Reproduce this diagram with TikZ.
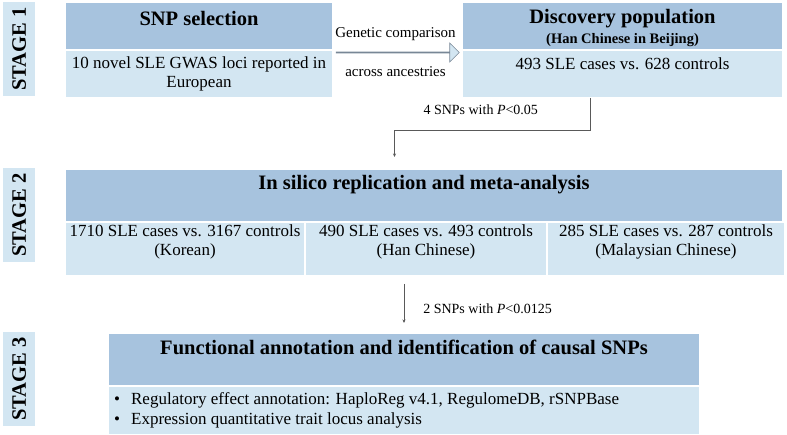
\documentclass[tikz,border=0pt]{standalone}
\usepackage{fontspec}
\setmainfont{Liberation Serif}
\usetikzlibrary{positioning, calc, arrows.meta, shapes.arrows}
\definecolor{hdrBlue}{RGB}{167,195,222}
\definecolor{cellBlue}{RGB}{211,230,242}
\definecolor{lineGray}{RGB}{89,89,89}
\definecolor{arrowGray}{RGB}{120,135,150}

\begin{document}
\begin{tikzpicture}[
  x=1pt, y=1pt,
  cell/.style={rectangle, draw=white, line width=1pt, fill=#1,
    anchor=north west, inner sep=0pt},
  cell/.default=cellBlue,
  stagebox/.style={rectangle, fill=cellBlue, anchor=north west,
    minimum width=32pt, minimum height=94pt, inner sep=0pt,
    font=\fontsize{20.5}{22}\selectfont\bfseries},
  ttl/.style={font=\fontsize{20.5}{22}\selectfont\bfseries, inner sep=0pt},
  subttl/.style={font=\fontsize{14.5}{16}\selectfont\bfseries, inner sep=0pt},
  txt/.style={font=\fontsize{17}{19}\selectfont, align=center, inner sep=0pt},
  lbl/.style={font=\fontsize{15}{17}\selectfont, inner sep=1pt},
  conn/.style={draw=lineGray, line width=0.6pt,
    -{Stealth[length=3.5pt,width=3pt]}}
]
  \useasboundingbox (0,0) rectangle (787,-435);

  % stage labels
  \node[stagebox] (st1) at (3,-2)   {\rotatebox{90}{STAGE 1}};
  \node[stagebox] (st2) at (3,-168) {\rotatebox{90}{STAGE 2}};
  \node[stagebox] (st3) at (3,-332) {\rotatebox{90}{STAGE 3}};

  % stage 1
  \node[cell=hdrBlue, minimum width=267pt, minimum height=47pt] (sel) at (65,-2) {};
  \node[cell, minimum width=267pt, minimum height=47pt] (selB) at (sel.south west) {};
  \node[ttl] at ($(sel.north)+(0,-16)$) {SNP selection};
  \node[txt] at (selB) {10 novel SLE GWAS loci reported in\\European};

  \node[cell=hdrBlue, minimum width=320pt, minimum height=47pt] (disc) at (462,-2) {};
  \node[cell, minimum width=320pt, minimum height=47pt] (discB) at (disc.south west) {};
  \node[ttl] at ($(disc.north)+(0,-17)$) {Discovery population};
  \node[subttl] at ($(disc.north)+(0,-38)$) {(Han Chinese in Beijing)};
  \node[txt] at ($(discB.north)+(0,-14)$) {493 SLE cases vs. 628 controls};

  \node[single arrow, draw=arrowGray, fill=cellBlue, line width=0.6pt,
    minimum height=123pt, minimum width=19pt, inner sep=0pt,
    single arrow head extend=5.5pt, single arrow head indent=0pt]
    (cmp) at ($(sel.south east)!0.5!(disc.south west)+(0,-2.5)$) {};
  \node[lbl] at ($(cmp)+(-2,18.5)$) {Genetic comparison};
  \node[lbl] at ($(cmp)+(-2,-19.5)$) {across ancestries};

  % stage 2
  \node[cell=hdrBlue, minimum width=717pt, minimum height=52pt] (rep) at (65,-169) {};
  \node[cell, minimum width=239pt, minimum height=53pt] (repA) at (rep.south west) {};
  \node[cell, minimum width=241pt, minimum height=53pt] (repB) at (repA.north east) {};
  \node[cell, minimum width=237pt, minimum height=53pt] (repC) at (repB.north east) {};
  \node[ttl] at ($(rep.north)+(0,-16)$) {In silico replication and meta-analysis};
  \node[txt] at ($(repA)+(0,7)$) {1710 SLE cases vs. 3167 controls\\(Korean)};
  \node[txt] at ($(repB)+(0,7)$) {490 SLE cases vs. 493 controls\\(Han Chinese)};
  \node[txt] at ($(repC)+(0,7)$) {285 SLE cases vs. 287 controls\\(Malaysian Chinese)};

  % stage 3
  \node[cell=hdrBlue, minimum width=591pt, minimum height=52pt] (func) at (108,-333) {};
  \node[cell, minimum width=591pt, minimum height=48pt] (funcB) at (func.south west) {};
  \node[ttl] at ($(func.north)+(0,-14)$) {Functional annotation and identification of causal SNPs};
  \node[txt, align=left, anchor=west, font=\fontsize{17}{20}\selectfont]
    at ($(funcB.west)+(6,0)$)
    {\textbullet\hspace{11pt}Regulatory effect annotation: HaploReg v4.1, RegulomeDB, rSNPBase\\
     \textbullet\hspace{11pt}Expression quantitative trait locus analysis};

  % connectors
  \draw[conn] ([xshift=-32pt]discB.south) -- ++(0,-32)
    -| ([xshift=-29.5pt,yshift=12pt]rep.north)
    node[lbl, font=\fontsize{14}{16}\selectfont, pos=0.28, above=14pt]
      {4 SNPs with \textit{P}<0.05};
  \draw[conn, shorten <=8pt, shorten >=10pt] (func.north |- repA.south) -- (func.north)
    node[lbl, font=\fontsize{14}{16}\selectfont, midway, right=18pt, yshift=-4pt]
      {2 SNPs with \textit{P}<0.0125};
\end{tikzpicture}
\end{document}
